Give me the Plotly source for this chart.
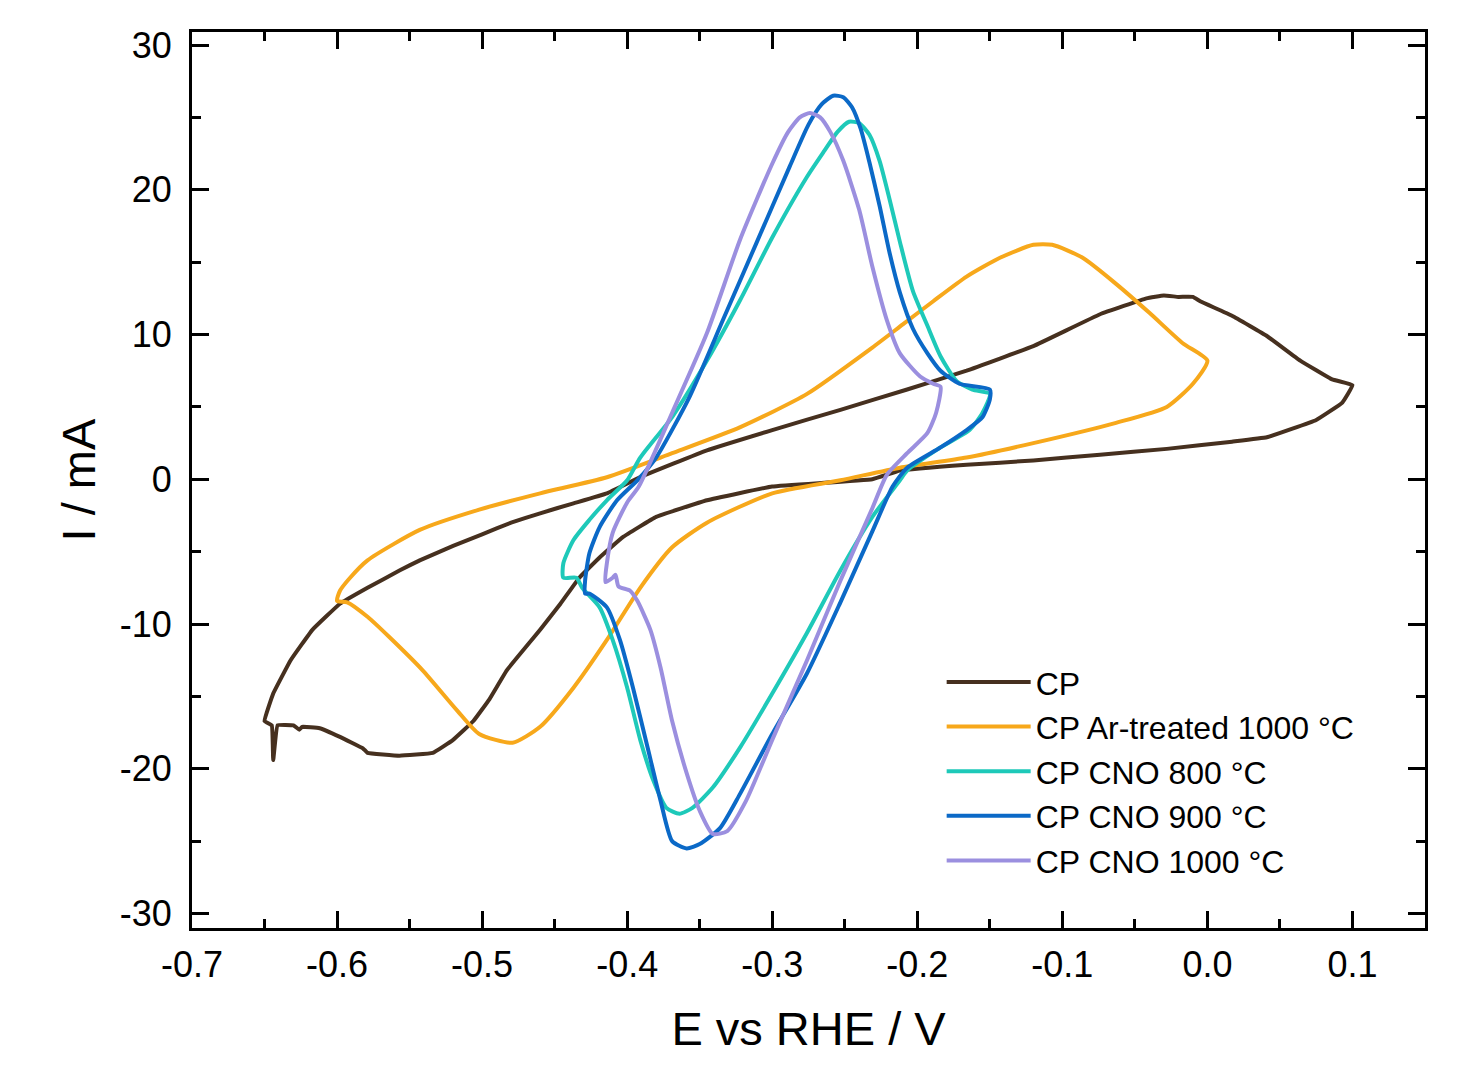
import plotly.graph_objects as go

# Cyclic voltammograms: potential E (V vs RHE) and current I (mA), each loop
# traced from its negative vertex along the anodic sweep and back.
E_CP = [-0.650, -0.644, -0.632, -0.617, -0.598, -0.579, -0.557, -0.543, -0.520, -0.500,
        -0.480, -0.460, -0.437, -0.414, -0.391, -0.345, -0.300, -0.253, -0.207, -0.166,
        -0.120, -0.074, -0.042, -0.030, -0.020, -0.010, -0.005, 0.017, 0.041, 0.064,
        0.086, 0.100,
        0.093, 0.075, 0.041, 0.017, -0.028, -0.074, -0.120, -0.166, -0.212, -0.231,
        -0.300, -0.345, -0.380, -0.403, -0.419, -0.433, -0.446, -0.460, -0.483, -0.495,
        -0.506, -0.520, -0.534, -0.557, -0.579, -0.582, -0.598, -0.612, -0.624, -0.626,
        -0.630, -0.641, -0.644, -0.645, -0.650]
I_CP = [-16.7, -14.8, -12.5, -10.4, -8.6, -7.5, -6.3, -5.6, -4.6, -3.8,
        -3.0, -2.35, -1.66, -0.97, 0.15, 2.0, 3.4, 4.8, 6.2, 7.5,
        9.2, 11.4, 12.5, 12.7, 12.6, 12.6, 12.3, 11.3, 9.9, 8.2,
        6.9, 6.5,
        5.3, 4.1, 2.9, 2.6, 2.1, 1.7, 1.3, 1.0, 0.6, 0.0,
        -0.5, -1.45, -2.6, -4.0, -5.4, -6.8, -8.6, -10.4, -13.2, -15.2,
        -16.7, -18.0, -18.9, -19.1, -18.9, -18.6, -17.8, -17.2, -17.1, -17.3,
        -17.0, -17.0, -19.4, -17.0, -16.7]

E_AR = [-0.600, -0.598, -0.591, -0.579, -0.543, -0.502, -0.460, -0.414, -0.369, -0.322,
        -0.276, -0.231, -0.210, -0.189, -0.166, -0.143, -0.120, -0.107, -0.086, -0.063,
        -0.040, -0.017, 0.000,
        -0.010, -0.028, -0.063, -0.120, -0.166, -0.212, -0.253, -0.300, -0.345, -0.369,
        -0.391, -0.414, -0.437, -0.460, -0.479, -0.502, -0.517, -0.541, -0.564, -0.579,
        -0.593, -0.600]
I_AR = [-8.4, -7.7, -6.8, -5.6, -3.5, -2.1, -0.97, 0.14, 1.8, 3.6,
        5.9, 9.1, 10.7, 12.3, 14.0, 15.3, 16.2, 16.2, 15.3, 13.5,
        11.5, 9.4, 8.2,
        6.6, 5.0, 3.9, 2.5, 1.5, 0.8, -0.07, -0.97, -3.0, -4.7,
        -7.5, -11.1, -14.4, -17.1, -18.2, -17.6, -16.0, -13.2, -10.9, -9.5,
        -8.5, -8.4]

E_800 = [-0.444, -0.444, -0.437, -0.426, -0.414, -0.400, -0.391, -0.369, -0.345, -0.322,
         -0.300, -0.276, -0.264, -0.255, -0.247, -0.240, -0.233, -0.226, -0.219, -0.212,
         -0.203, -0.193, -0.184, -0.173, -0.162, -0.150,
         -0.155, -0.164, -0.184, -0.207, -0.212, -0.231, -0.253, -0.276, -0.300, -0.322,
         -0.341, -0.355, -0.364, -0.373, -0.382, -0.391, -0.400, -0.410, -0.419, -0.431,
         -0.435, -0.444]
I_800 = [-6.8, -5.8, -4.2, -2.8, -1.45, -0.07, 1.5, 4.3, 8.2, 12.4,
         16.7, 20.9, 22.7, 24.0, 24.7, 24.6, 23.8, 22.0, 19.3, 16.4,
         13.0, 10.6, 8.5, 6.8, 6.2, 5.9,
         4.6, 3.4, 2.2, 0.6, -0.07, -2.6, -6.3, -10.6, -14.8, -18.5,
         -21.3, -22.7, -23.1, -22.7, -20.8, -18.0, -14.4, -11.1, -8.85, -7.5,
         -6.8, -6.8]

E_900 = [-0.429, -0.429, -0.426, -0.419, -0.407, -0.393, -0.380, -0.357, -0.334, -0.311,
         -0.288, -0.275, -0.266, -0.258, -0.251, -0.245, -0.239, -0.233, -0.226, -0.219,
         -0.212, -0.203, -0.193, -0.184, -0.171, -0.150,
         -0.150, -0.155, -0.166, -0.184, -0.207, -0.217, -0.231, -0.253, -0.276, -0.300,
         -0.322, -0.336, -0.350, -0.359, -0.369, -0.377, -0.386, -0.396, -0.405, -0.414,
         -0.426, -0.429]
I_900 = [-7.9, -7.0, -5.1, -3.3, -1.45, -0.07, 1.5, 5.7, 11.0, 16.3,
         21.6, 24.5, 25.9, 26.5, 26.4, 25.7, 24.2, 21.9, 18.9, 15.6,
         12.9, 10.4, 8.7, 7.5, 6.6, 6.2,
         5.5, 4.3, 3.4, 2.2, 0.8, -0.5, -3.6, -8.5, -13.4, -17.6,
         -21.7, -24.1, -25.2, -25.5, -25.0, -22.2, -18.5, -14.4, -11.1, -8.85,
         -7.9, -7.9]

E_1000 = [-0.415, -0.414, -0.410, -0.400, -0.392, -0.369, -0.345, -0.322, -0.300, -0.289,
          -0.281, -0.274, -0.267, -0.260, -0.251, -0.240, -0.231, -0.221, -0.212, -0.198,
          -0.189, -0.184,
          -0.187, -0.193, -0.207, -0.221, -0.231, -0.253, -0.276, -0.300, -0.318, -0.331,
          -0.341, -0.350, -0.359, -0.369, -0.377, -0.384, -0.393, -0.398, -0.406, -0.408,
          -0.410, -0.415]
I_1000 = [-7.1, -5.8, -3.7, -1.6, -0.5, 4.6, 10.1, 16.6, 21.8, 24.0,
          25.0, 25.3, 25.0, 24.0, 22.0, 18.6, 14.7, 11.0, 8.7, 7.1,
          6.6, 6.4,
          4.6, 3.2, 1.8, 0.3, -2.0, -7.0, -12.5, -18.0, -22.2, -24.3,
          -24.5, -22.9, -20.3, -16.7, -13.0, -10.4, -8.4, -7.7, -7.4, -6.6,
          -6.8, -7.1]

SERIES = [
    ("CP", E_CP, I_CP, "#46301f", 0.25),
    ("CP Ar-treated 1000 °C", E_AR, I_AR, "#f7a81b", 0.6),
    ("CP CNO 800 °C", E_800, I_800, "#1ec9b9", 0.6),
    ("CP CNO 900 °C", E_900, I_900, "#0b69c7", 0.6),
    ("CP CNO 1000 °C", E_1000, I_1000, "#9b8fdf", 0.6),
]

X_TICKS = [-0.7, -0.6, -0.5, -0.4, -0.3, -0.2, -0.1, 0.0, 0.1]
X_TICK_TEXT = ["-0.7", "-0.6", "-0.5", "-0.4", "-0.3", "-0.2", "-0.1", "0.0", "0.1"]
Y_TICKS = [-30, -20, -10, 0, 10, 20, 30]
Y_TICK_TEXT = ["-30", "-20", "-10", "0", "10", "20", "30"]

FONT = "Liberation Sans, Arial, sans-serif"

fig = go.Figure()
for name, e, i, color, smooth in SERIES:
    fig.add_trace(go.Scatter(
        x=e, y=i, mode="lines", name=name,
        line=dict(color=color, width=4, shape="spline", smoothing=smooth),
    ))

axis_common = dict(
    showline=True, linecolor="black", linewidth=3, mirror="ticks",
    ticks="inside", ticklen=17, tickwidth=3, tickcolor="black",
    showgrid=False, zeroline=False,
    tickfont=dict(family=FONT, size=36, color="black"),
    title_font=dict(family=FONT, size=47, color="black"),
)

fig.update_xaxes(
    range=[-0.7, 0.15], tickvals=X_TICKS, ticktext=X_TICK_TEXT,
    minor=dict(ticks="inside", ticklen=9, tickwidth=3, tickcolor="black", dtick=0.05,
               tick0=-0.7),
    title_text="E vs RHE / V", title_standoff=28, ticklabelstandoff=3,
    **axis_common,
)
fig.update_yaxes(
    range=[-31.0, 30.9], tickvals=Y_TICKS, ticktext=Y_TICK_TEXT,
    minor=dict(ticks="inside", ticklen=9, tickwidth=3, tickcolor="black", dtick=5,
               tick0=-30),
    title_text="I / mA", title_standoff=10, ticklabelstandoff=10,
    **axis_common,
)

fig.update_layout(
    width=1463, height=1073,
    margin=dict(l=192, r=38, t=32, b=145),
    paper_bgcolor="white", plot_bgcolor="white",
    font=dict(family=FONT, color="black"),
    showlegend=True,
    legend=dict(
        x=0.608, y=0.305, xanchor="left", yanchor="top",
        bgcolor="rgba(0,0,0,0)", borderwidth=0,
        font=dict(family=FONT, size=32, color="black"),
        itemwidth=84, tracegroupgap=0,
    ),
)

fig.write_html("out.html")
